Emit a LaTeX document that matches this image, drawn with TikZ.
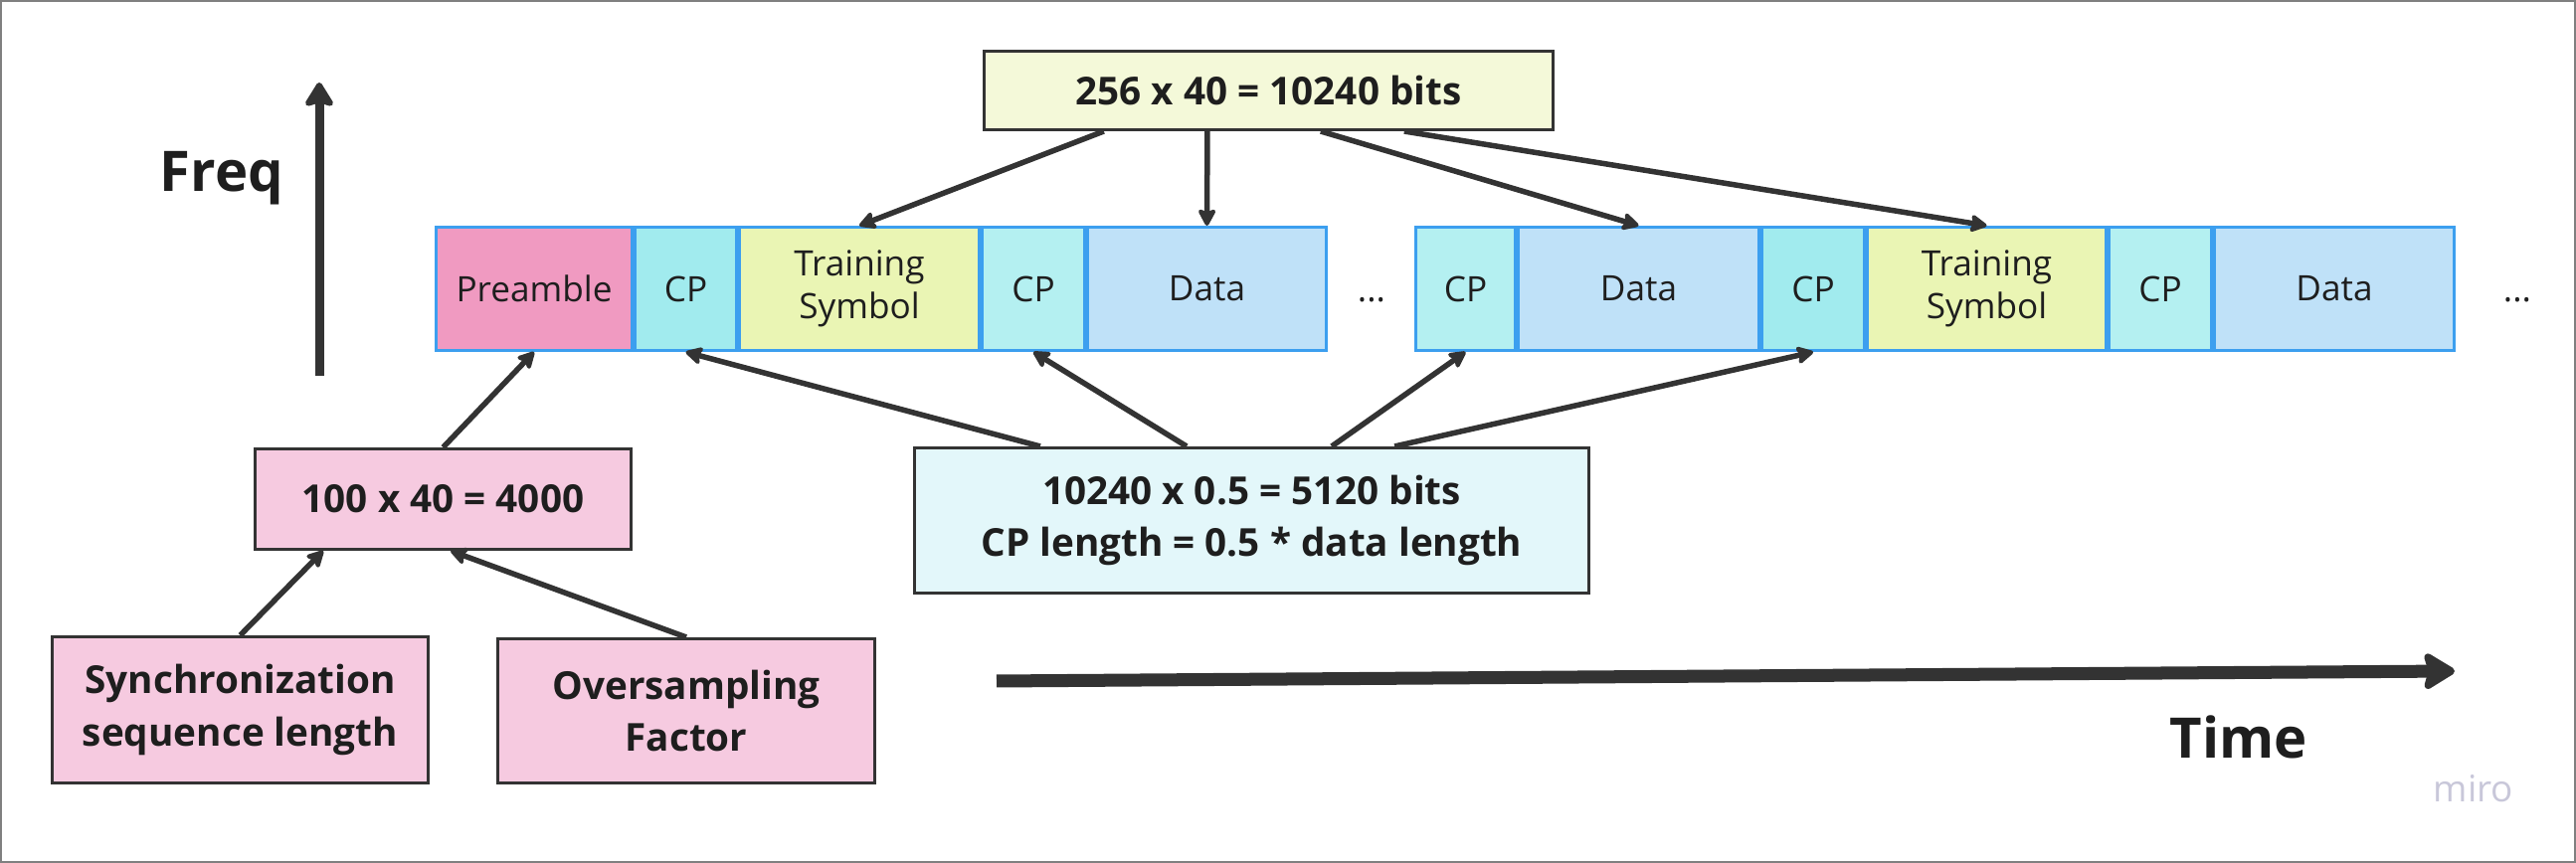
\documentclass[tikz,border=0pt]{standalone}
\usepackage{fontspec}
\setmainfont{Open Sans}
\usepackage{tikz}
\usetikzlibrary{arrows.meta,calc,positioning}

\definecolor{pream}{HTML}{F09AC1}
\definecolor{cpdark}{HTML}{A1EBEE}
\definecolor{cplight}{HTML}{B4F0F1}
\definecolor{train}{HTML}{EAF5B4}
\definecolor{datab}{HTML}{BFE1F8}
\definecolor{edgeb}{HTML}{3C9FEF}
\definecolor{boxpink}{HTML}{F6CAE0}
\definecolor{boxyel}{HTML}{F4F9D9}
\definecolor{boxcyan}{HTML}{E3F7FA}
\definecolor{ink}{HTML}{333333}
\definecolor{txt}{HTML}{1E1E1E}
\definecolor{miroc}{HTML}{C8C7D9}

\begin{document}
\begin{tikzpicture}[x=0.01cm,y=-0.01cm,
    blk/.style={draw=edgeb, line width=0.03cm, minimum height=1.24cm, inner sep=0pt,
      align=center, text=txt, font=\fontsize{10}{12.2}\selectfont},
    infobox/.style={draw=ink, line width=0.035cm, inner sep=0pt, align=center,
      text=txt, font=\bfseries\fontsize{11}{15}\selectfont},
    conn/.style={draw=ink, line width=0.055cm, -{Stealth[length=0.2cm,width=0.21cm,inset=0.04cm,round]}},
    axislbl/.style={text=txt, anchor=base, font=\bfseries\fontsize{16}{19}\selectfont}]
      \useasboundingbox (0,0) rectangle (2590,868);
      \draw[black!50, line width=0.02cm] (1,1) rectangle (2589,867); % frame

      % first frame
      \node[blk, fill=pream, minimum width=1.97cm] (pre) at (537,290.5) {Preamble};
      \node[blk, fill=cpdark, minimum width=1.02cm] (cp1) at (689.5,290.5) {CP};
      \node[blk, fill=train, minimum width=2.41cm] (ts1) at (864,290.5) {Training\\Symbol};
      \node[blk, fill=cplight, minimum width=1.03cm] (cp2) at (1039,290.5) {CP};
      \node[blk, fill=datab, minimum width=2.40cm] (d1) at (1213.5,290.5) {Data};
      \node[text=txt, font=\fontsize{10}{12}\selectfont] (dots1) at (1379,302) {...};
      % second frame
      \node[blk, fill=cplight, minimum width=1.00cm] (cp3) at (1473.5,290.5) {CP};
      \node[blk, fill=datab, minimum width=2.42cm] (d2) at (1647.5,290.5) {Data};
      \node[blk, fill=cpdark, minimum width=1.03cm] (cp4) at (1823,290.5) {CP};
      \node[blk, fill=train, minimum width=2.40cm] (ts2) at (1997.5,290.5) {Training\\Symbol};
      \node[blk, fill=cplight, minimum width=1.03cm] (cp5) at (2172,290.5) {CP};
      \node[blk, fill=datab, minimum width=2.41cm] (d3) at (2347,290.5) {Data};
      \node[text=txt, font=\fontsize{10}{12}\selectfont] (dots2) at (2531,302) {...};

      % boxes
      \node[infobox, fill=boxyel, minimum width=5.715cm, minimum height=0.785cm] (bits) at (1275.5,91) {256 x 40 = 10240 bits}; % top
      \node[infobox, fill=boxpink, minimum width=3.775cm, minimum height=1.005cm] (mul) at (445.5,502) {100 x 40 = 4000};
      \node[infobox, fill=boxpink, minimum width=3.775cm, minimum height=1.465cm] (sync) at (241.5,714) {Synchronization\\sequence length};
      \node[infobox, fill=boxpink, minimum width=3.785cm, minimum height=1.445cm] (ovs) at (690,715) {Oversampling\\Factor};
      \node[infobox, fill=boxcyan, minimum width=6.775cm, minimum height=1.455cm] (cpl) at (1258.5,523.5) {10240 x 0.5 = 5120 bits\\CP length = 0.5 * data length};

      % arrows
      \draw[conn] ($(bits.south west)!.212!(bits.south east)$) -- (ts1.north);
      \draw[conn] ($(bits.south west)!.393!(bits.south east)$) -- (d1.north);
      \draw[conn] ($(bits.south west)!.591!(bits.south east)$) -- (d2.north);
      \draw[conn] ($(bits.south west)!.737!(bits.south east)$) -- (ts2.north);
      \draw[conn] ($(cpl.north west)!.188!(cpl.north east)$) -- (cp1.south);
      \draw[conn] ($(cpl.north west)!.404!(cpl.north east)$) -- (cp2.south);
      \draw[conn] ($(cpl.north west)!.618!(cpl.north east)$) -- (cp3.south);
      \draw[conn] ($(cpl.north west)!.711!(cpl.north east)$) -- (cp4.south);
      \draw[conn] (mul.north) -- (pre.south);
      \draw[conn] (sync.north) -- ($(mul.south west)!.184!(mul.south east)$);
      \draw[conn] (ovs.north) -- ($(mul.south west)!.52!(mul.south east)$);

      % axes
      \coordinate (f0) at (321,378);
      \coordinate (f1) at (321,83);
      \coordinate (t0) at (1002,685);
      \coordinate (t1) at (2468,675);
      \draw[ink, line width=0.09cm, -{Stealth[length=0.28cm,width=0.34cm,inset=0.05cm,round]}] (f0) -- (f1);
      \draw[ink, line width=0.13cm, -{Stealth[length=0.36cm,width=0.43cm,inset=0.06cm,round]}] (t0) -- (t1);
      \node[axislbl] (freq) at (223,193) {Freq};
      \node[axislbl] (time) at (2251,763) {Time};
      \node[text=miroc, anchor=base, font=\fontsize{10.5}{12}\selectfont] (miro) at (2487,807) {miro};
\end{tikzpicture}
\end{document}
